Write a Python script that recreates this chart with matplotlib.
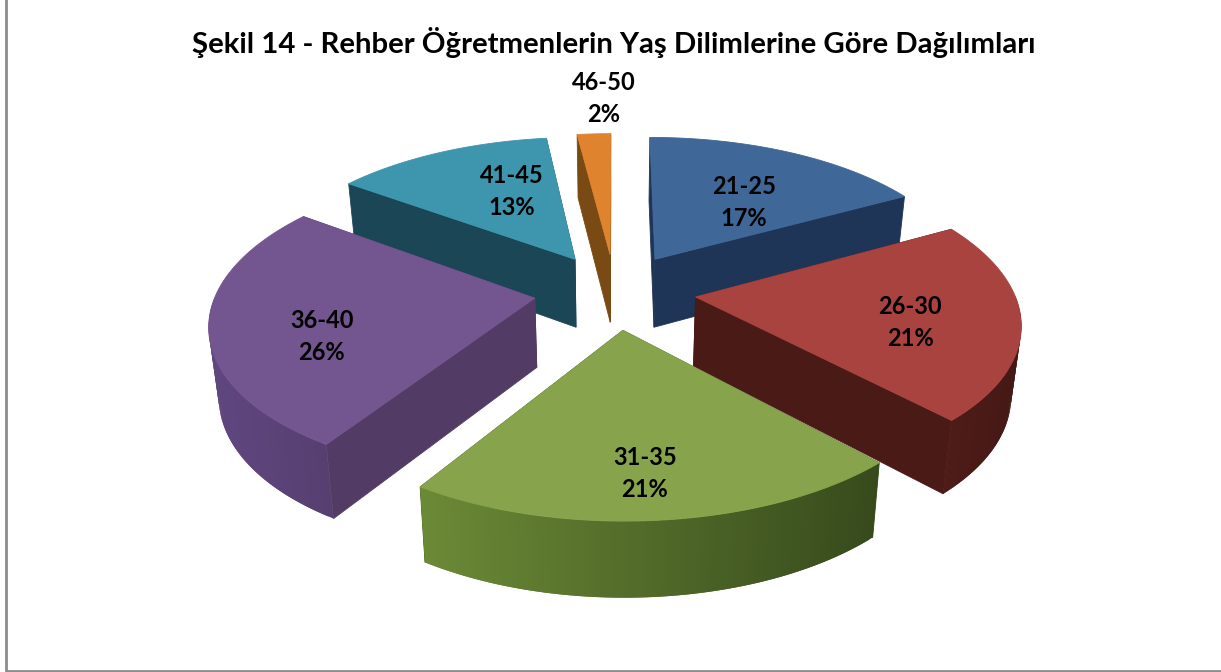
import numpy as np
import matplotlib
matplotlib.use("Agg")
import matplotlib.pyplot as plt
from matplotlib.colors import to_rgb

# --- data ---
title = "Şekil 14 - Rehber Öğretmenlerin Yaş Dilimlerine Göre Dağılımları"
categories = ["21-25", "26-30", "31-35", "36-40", "41-45", "46-50"]
percents = [17, 21, 21, 26, 13, 2]

# --- style ---
top_colors = ["#3f6797", "#a84340", "#87a44c", "#735590", "#3e96ae", "#e0832e"]
wall_colors = ["#1f3557", "#4a1a17", "#3d4f20", "#523c66", "#1b4655", "#7a4a15"]
rim_left = ["#1f3557", "#4f1c18", "#6b8a36", "#60467f", "#1b4655", "#7a4a15"]
rim_right = ["#1f3557", "#451815", "#374a1c", "#573f70", "#1b4655", "#7a4a15"]
draw_order = [5, 4, 0, 3, 1, 2]
label_radius = [0.52, 0.65, 0.76, 0.65, 0.55, 1.30]
label_offset = [(15, 2), (5, 10), (-6, 5), (-3, 20), (15, -6), (14, -5)]

# --- projection ---
CX, CY = 615, 291
A, B = 318, 149
PERSP = 0.15
DEPTH = 69
EXPLODE = 0.255
CONV = 0.025


def project(x, y, z=0.0):
    x, y = np.asarray(x, float), np.asarray(y, float)
    w = 1 + PERSP * y
    sx = CX + A * x / w * (1 - CONV * z)
    sy = CY - B * y / w + z * DEPTH / np.sqrt(w)
    return sx, sy


fig = plt.figure(figsize=(12.21, 6.72), dpi=100, facecolor="white")
ax = fig.add_axes([0, 0, 1, 1])
ax.set_xlim(0, 1221)
ax.set_ylim(672, 0)
ax.axis("off")

# chart frame (left and bottom visible)
ax.plot([6, 6, 1221], [0, 670.5, 670.5], color="#8c8c8c", lw=2, zorder=0)

fractions = np.array(percents, float) / sum(percents)
ends = np.cumsum(fractions) * 2 * np.pi
starts = ends - fractions * 2 * np.pi

level = 1
for i in draw_order:
    a0, a1 = starts[i], ends[i]
    mid = (a0 + a1) / 2
    ox, oy = EXPLODE * np.sin(mid), EXPLODE * np.cos(mid)

    # radial walls
    for a in (a0, a1):
        ex, ey = ox + np.sin(a), oy + np.cos(a)
        xs = np.array([ox, ex, ex, ox])
        ys = np.array([oy, ey, ey, oy])
        zs = np.array([0, 0, 1, 1])
        sx, sy = project(xs, ys, zs)
        ax.fill(sx, sy, color=wall_colors[i], lw=0.6, zorder=level)
    level += 1

    # full rim outline for the top face
    t = np.linspace(a0, a1, 90)
    rx, ry = ox + np.sin(t), oy + np.cos(t)

    # rim wall: only the part that faces the viewer; strips overlap so no seams show
    front = np.cos(t) < 0.02
    if front.sum() > 1:
        sx0, sy0 = project(rx[front], ry[front], 0)
        sx1, sy1 = project(rx[front], ry[front], 1)
        lo, hi = sx0.min(), sx0.max()
        c0, c1 = np.array(to_rgb(rim_left[i])), np.array(to_rgb(rim_right[i]))
        n = len(sx0)
        for k in range(n - 1):
            k2 = min(k + 2, n - 1)
            f = (0.5 * (sx0[k] + sx0[k + 1]) - lo) / max(hi - lo, 1)
            ax.fill([sx0[k], sx0[k2], sx1[k2], sx1[k]], [sy0[k], sy0[k2], sy1[k2], sy1[k]],
                    color=tuple(c0 + (c1 - c0) * f), lw=0, zorder=level)
    level += 1

    # top face
    px = np.r_[ox, rx]
    py = np.r_[oy, ry]
    sx, sy = project(px, py, 0)
    ax.fill(sx, sy, color=top_colors[i], lw=0.6, zorder=level)
    level += 1

for i, (cat, pct) in enumerate(zip(categories, percents)):
    mid = (starts[i] + ends[i]) / 2
    r = EXPLODE + label_radius[i]
    sx, sy = project(r * np.sin(mid), r * np.cos(mid))
    dx, dy = label_offset[i]
    ax.text(float(sx) + dx, float(sy) + dy, f"{cat}\n{pct}%", ha="center", va="center",
            fontsize=17, fontweight="bold", family=["Lato", "DejaVu Sans"],
            color="black", linespacing=1.47, zorder=1000)

ax.text(614, 42, title, ha="center", va="center", fontsize=21.2, fontweight="bold",
        family=["Lato", "DejaVu Sans"], color="black", zorder=1000)

fig.savefig("out.png", dpi=100)
